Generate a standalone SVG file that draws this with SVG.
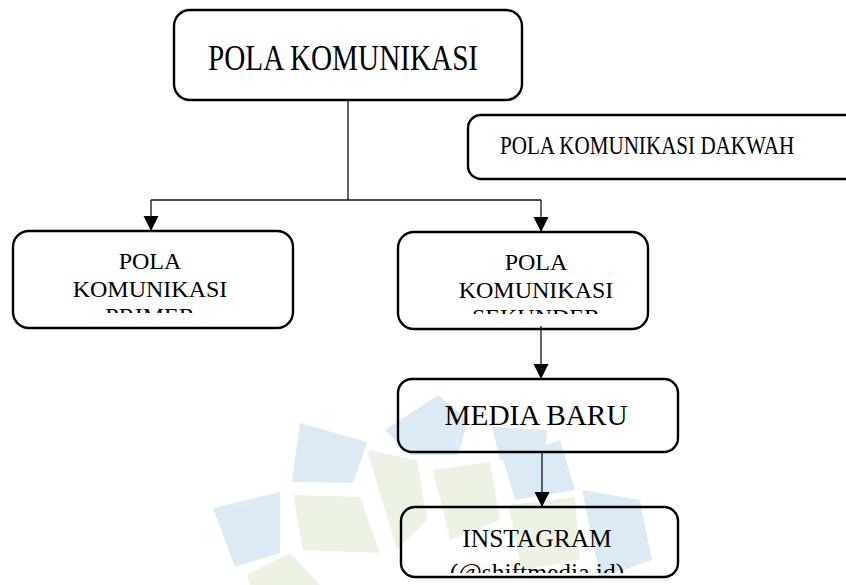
<svg xmlns="http://www.w3.org/2000/svg" width="846" height="585" viewBox="0 0 846 585">
<style>
  .box{fill:none;stroke:#000;stroke-width:2.4}
  .t{font-family:"Liberation Serif","Times New Roman",serif;fill:#000}
  .wb{fill:#d6e7f5}
  .wg{fill:#e9f2e0}
  .con{fill:none;stroke:#111;stroke-width:1.3}
</style>
<defs>
  <marker id="ah" markerUnits="userSpaceOnUse" markerWidth="16" markerHeight="16" refX="15" refY="7.5" orient="auto">
    <path d="M0,0 L15,7.5 L0,15 z" fill="#000"/>
  </marker>
  <clipPath id="cl1"><rect x="0" y="231" width="846" height="82"/></clipPath>
  <clipPath id="cl2"><rect x="0" y="232" width="846" height="82"/></clipPath>
  <clipPath id="cl3"><rect x="0" y="507" width="846" height="66"/></clipPath>
</defs>
<rect width="846" height="585" fill="#fff"/>
<g id="watermark" opacity="0.85">
  <polygon class="wb" points="300,423 367,442 353,483 292,482"/>
  <polygon class="wb" points="213,508 280,492 280,553 235,567"/>
  <polygon class="wb" points="385,430 438,395 468,420 458,455 410,455"/>
  <polygon class="wb" points="492,427 547,430 545,457 500,460"/>
  <polygon class="wb" points="503,460 560,440 575,490 515,500"/>
  <polygon class="wb" points="582,490 640,500 652,560 600,578"/>
  <polygon class="wg" points="293,495 360,497 380,553 303,550"/>
  <polygon class="wg" points="367,450 417,460 427,520 397,550"/>
  <polygon class="wg" points="433,470 490,462 500,520 450,540"/>
  <polygon class="wg" points="508,505 575,497 580,560 522,570"/>
  <polygon class="wg" points="247,575 290,553 320,585 250,585"/>
</g>
<g id="connectors">
  <path class="con" d="M348,100 V200"/>
  <path class="con" d="M151,200 H541"/>
  <path class="con" d="M151,200 V231" marker-end="url(#ah)"/>
  <path class="con" d="M541,200 V232" marker-end="url(#ah)"/>
  <path class="con" d="M541,326 V379" marker-end="url(#ah)"/>
  <path class="con" d="M542,453 V507" marker-end="url(#ah)"/>
</g>
<g id="pola-komunikasi">
  <rect class="box" x="174" y="10" width="348" height="90" rx="16"/>
  <text class="t" font-size="29.2" transform="translate(208,70) scale(1,1.2)">POLA KOMUNIKASI</text>
</g>
<g id="pola-dakwah">
  <rect class="box" x="468" y="115" width="420" height="64" rx="13"/>
  <text class="t" font-size="21.1" transform="translate(500,154) scale(1,1.2)">POLA KOMUNIKASI DAKWAH</text>
</g>
<g id="primer">
  <rect class="box" x="13" y="231" width="280" height="97" rx="16"/>
  <g clip-path="url(#cl1)">
    <text class="t" font-size="24" text-anchor="middle" x="150" y="269">POLA</text>
    <text class="t" font-size="24" text-anchor="middle" x="150" y="297">KOMUNIKASI</text>
    <text class="t" font-size="24" text-anchor="middle" x="150" y="324">PRIMER</text>
  </g>
</g>
<g id="sekunder">
  <rect class="box" x="398" y="232" width="250" height="97" rx="16"/>
  <g clip-path="url(#cl2)">
    <text class="t" font-size="24" text-anchor="middle" x="536" y="270">POLA</text>
    <text class="t" font-size="24" text-anchor="middle" x="536" y="298">KOMUNIKASI</text>
    <text class="t" font-size="24" text-anchor="middle" x="536" y="325">SEKUNDER</text>
  </g>
</g>
<g id="media-baru">
  <rect class="box" x="398" y="379" width="280" height="73" rx="14"/>
  <text class="t" font-size="29.3" text-anchor="middle" x="536" y="425">MEDIA BARU</text>
</g>
<g id="instagram">
  <rect class="box" x="401" y="507" width="277" height="70" rx="14"/>
  <g clip-path="url(#cl3)">
    <text class="t" font-size="25.5" text-anchor="middle" x="537" y="547">INSTAGRAM</text>
    <text class="t" font-size="25.5" text-anchor="middle" x="537" y="581">(@shiftmedia.id)</text>
  </g>
</g>
</svg>
